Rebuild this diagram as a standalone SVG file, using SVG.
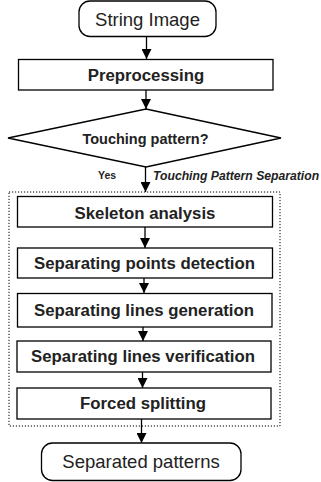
<svg xmlns="http://www.w3.org/2000/svg" width="321" height="482" viewBox="0 0 321 482">
<defs>
<marker id="ah" viewBox="0 0 10 10" refX="10" refY="5" markerWidth="10" markerHeight="10" markerUnits="userSpaceOnUse" orient="auto">
<path d="M0,0 L10,5 L0,10 z" fill="#000"/>
</marker>
</defs>
<style>
.box{fill:#fff;stroke:#000;stroke-width:1.3}
.b{font-family:"Liberation Sans",Arial,sans-serif;font-weight:bold;font-size:16.8px;fill:#222;text-anchor:middle}
.d{font-family:"Liberation Sans",Arial,sans-serif;font-weight:bold;font-size:14.5px;fill:#222;text-anchor:middle}
.r{font-family:"Liberation Sans",Arial,sans-serif;font-size:18.5px;fill:#222;text-anchor:middle}
.s{font-family:"Liberation Sans",Arial,sans-serif;font-weight:bold;font-size:10.5px;fill:#222}
.i{font-family:"Liberation Sans",Arial,sans-serif;font-weight:bold;font-style:italic;font-size:12.2px;fill:#222}
.c{stroke:#000;stroke-width:1.3;fill:none;marker-end:url(#ah)}
</style>
<rect x="9" y="192" width="271" height="234" fill="none" stroke="#000" stroke-width="1" stroke-dasharray="1.2,1.8"/>
<g id="connectors">
<line class="c" x1="146.5" y1="37" x2="146.5" y2="59"/>
<line class="c" x1="146" y1="90" x2="146" y2="109"/>
<line class="c" x1="145.5" y1="167" x2="145.5" y2="192"/>
<line class="c" x1="145" y1="227" x2="145" y2="248"/>
<line class="c" x1="144" y1="278" x2="144" y2="293"/>
<line class="c" x1="143" y1="327" x2="143" y2="341"/>
<line class="c" x1="142.5" y1="372" x2="142.5" y2="388"/>
<line class="c" x1="141.5" y1="419" x2="141.5" y2="443"/>
</g>
<g id="string-image">
<rect class="box" x="79" y="1" width="137" height="35.5" rx="11"/>
<text class="r" x="147.5" y="26">String Image</text>
</g>
<g id="preprocessing">
<rect class="box" x="18.5" y="59.5" width="254.5" height="30.5"/>
<text class="b" x="146" y="81">Preprocessing</text>
</g>
<g id="touching-pattern">
<polygon class="box" points="146,109 281,138 146,167 8,138"/>
<text class="d" x="145.5" y="144">Touching pattern?</text>
</g>
<g id="labels">
<text class="s" x="98" y="179">Yes</text>
<text class="i" x="153" y="180">Touching Pattern Separation</text>
</g>
<g id="skeleton-analysis">
<rect class="box" x="17.5" y="196.5" width="255" height="30.5"/>
<text class="b" x="145" y="219">Skeleton analysis</text>
</g>
<g id="separating-points-detection">
<rect class="box" x="17.5" y="248" width="255" height="30"/>
<text class="b" x="144.5" y="269">Separating points detection</text>
</g>
<g id="separating-lines-generation">
<rect class="box" x="17.5" y="293.5" width="254.5" height="33.5"/>
<text class="b" x="144" y="316">Separating lines generation</text>
</g>
<g id="separating-lines-verification">
<rect class="box" x="17" y="341" width="254" height="31"/>
<text class="b" x="143" y="362">Separating lines verification</text>
</g>
<g id="forced-splitting">
<rect class="box" x="17" y="388" width="254" height="31"/>
<text class="b" x="143" y="409">Forced splitting</text>
</g>
<g id="separated-patterns">
<rect class="box" x="41.5" y="443" width="199.5" height="37.5" rx="11"/>
<text class="r" x="141" y="468">Separated patterns</text>
</g>
</svg>
